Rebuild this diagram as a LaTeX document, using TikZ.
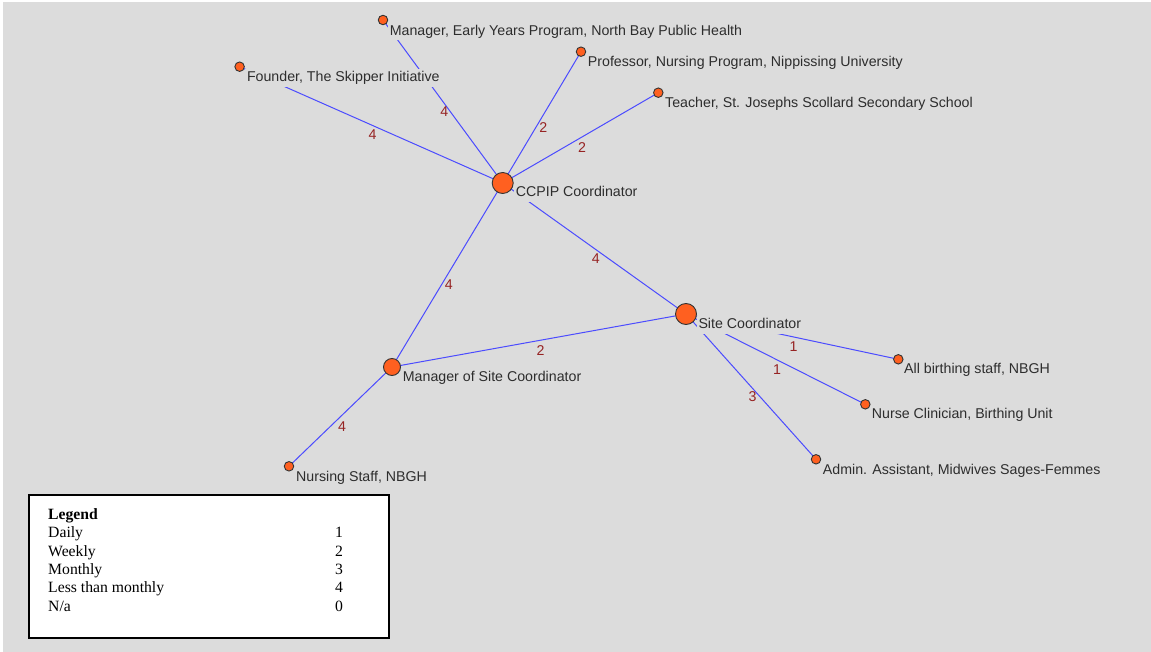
\documentclass[tikz,border=0pt]{standalone}
\usepackage{fontspec}
\setmainfont{Liberation Serif}
\newfontfamily\arialfont{Liberation Sans}
\usepackage{tikz}
\pgfdeclarelayer{background}
\pgfdeclarelayer{edges}
\pgfsetlayers{background,edges,main}
\definecolor{bggray}{RGB}{220,220,220}
\definecolor{edgeblue}{RGB}{75,75,255}
\definecolor{numred}{RGB}{150,35,35}
\definecolor{dotorange}{RGB}{255,96,32}
\definecolor{txtgray}{RGB}{45,45,45}
\tikzset{
  actor/.style={circle, draw=black!80, line width=0.9pt, fill=dotorange, inner sep=0pt},
  bigdot/.style={actor, minimum size=21pt},
  middot/.style={actor, minimum size=17pt},
  smalldot/.style={actor, minimum size=9.5pt},
  lbl/.style={fill=bggray, text=txtgray, inner sep=2pt, anchor=base west,
    font=\arialfont\fontsize{14.2}{16}\selectfont, text height=11pt, text depth=3pt},
  tie/.style={draw=edgeblue, line width=1pt},
  freq/.style={text=numred, font=\arialfont\fontsize{14.2}{16}\selectfont,
    inner sep=0pt, xshift=1.5pt, yshift=-10pt}
}

\begin{document}
\begin{tikzpicture}[x=1pt, y=-1pt]
    \useasboundingbox (0,0) rectangle (1151,652);
    \begin{pgfonlayer}{background}
      \fill[white] (0,0) rectangle (1151,652);
      \fill[bggray] (3,2) rectangle (1151,652);
    \end{pgfonlayer}

    \node[lbl] (ccpipL) at (513.7,196.8) {CCPIP Coordinator};
    \node[lbl] (siteL) at (696.3,328.8) {Site Coordinator};
    \node[lbl] (mscL) at (400.7,381.2) {Manager of Site Coordinator};
    \node[lbl] (nursingL) at (294,481.2) {Nursing Staff, NBGH};
    \node[lbl] (founderL) at (244.8,81.8) {Founder, The Skipper Initiative};
    \node[lbl] (earlyL) at (387.6,35.2) {Manager, Early Years Program, North Bay Public Health};
    \node[lbl] (profL) at (585.7,66.5) {Professor, Nursing Program, Nippissing University};
    \node[lbl] (teacherL) at (663,107.2) {Teacher, St. Josephs Scollard Secondary School};
    \node[lbl] (birthL) at (902,373.8) {All birthing staff, NBGH};
    \node[lbl] (nurseL) at (869.7,418.8) {Nurse Clinician, Birthing Unit};
    \node[lbl] (adminL) at (820.7,474.5) {Admin. Assistant, Midwives Sages-Femmes};

    \node[bigdot] (ccpip) at (502.7,183) {};
    \node[bigdot] (site) at (686,314) {};
    \node[middot] (msc) at (392,367) {};
    \node[smalldot] (nursing) at (289,466.3) {};
    \node[smalldot] (founder) at (239.6,66.7) {};
    \node[smalldot] (early) at (383,20) {};
    \node[smalldot] (prof) at (581,51.7) {};
    \node[smalldot] (teacher) at (658.3,92.7) {};
    \node[smalldot] (birth) at (898.3,359.3) {};
    \node[smalldot] (nurse) at (865.3,404.3) {};
    \node[smalldot] (admin) at (816,459.3) {};

    \begin{pgfonlayer}{edges}
      \draw[tie] (founder.center) -- node[freq] {4} (ccpip.center);
      \draw[tie] (early.center) -- node[freq] {4} (ccpip.center);
      \draw[tie] (prof.center) -- node[freq] {2} (ccpip.center);
      \draw[tie] (teacher.center) -- node[freq] {2} (ccpip.center);
      \draw[tie] (ccpip.center) -- node[freq] {4} (site.center);
      \draw[tie] (ccpip.center) -- node[freq] {4} (msc.center);
      \draw[tie] (msc.center) -- node[freq] {2} (site.center);
      \draw[tie] (msc.center) -- node[freq] {4} (nursing.center);
      \draw[tie] (site.center) -- node[freq] {1} (birth.center);
      \draw[tie] (site.center) -- node[freq] {1} (nurse.center);
      \draw[tie] (site.center) -- node[freq] {3} (admin.center);
    \end{pgfonlayer}

    \node[draw=black, line width=2pt, fill=white, inner sep=0pt, anchor=north west,
      minimum width=360pt, minimum height=143pt] (legend) at (27.5,494) {};
    \node[anchor=base west, inner sep=0pt, font=\fontsize{15.7}{18.4}\selectfont] (key) at (48,519.3)
      {\begin{tabular}[t]{@{}p{287pt}@{}c@{}}
        \textbf{Legend} & \\
        Daily & 1\\
        Weekly & 2\\
        Monthly & 3\\
        Less than monthly & 4\\
        N/a & 0
      \end{tabular}};
  \end{tikzpicture}
\end{document}
